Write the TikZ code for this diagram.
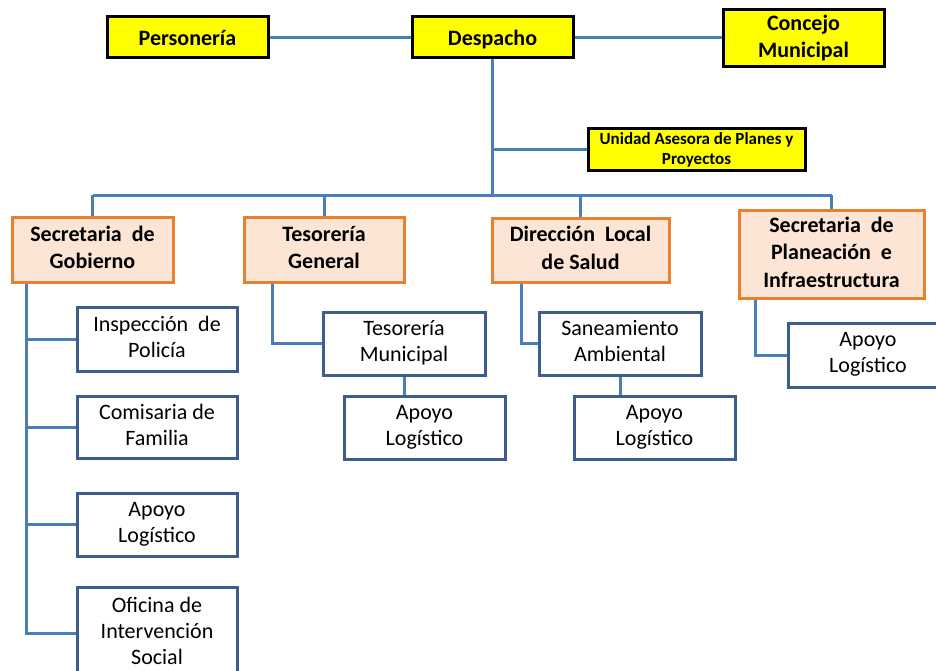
\documentclass[tikz,border=0pt]{standalone}
\usepackage{fontspec}
\setmainfont{Carlito}
\usetikzlibrary{calc}
\definecolor{linkblue}{HTML}{4A7EBB}
\definecolor{boxblue}{HTML}{3B5E8C}
\definecolor{orgborder}{HTML}{E8802F}
\definecolor{orgfill}{HTML}{FCE5D4}
\definecolor{ylw}{HTML}{FFFF00}
\newcommand\boxstrut{\rule[-0.2em]{0pt}{1.15em}}
\tikzset{
  basebox/.style={line width=3pt, inner sep=0pt, align=center,
     execute at begin node=\boxstrut, execute at end node=\boxstrut},
  topbox/.style={basebox, draw=black, fill=ylw,
     font=\fontsize{22}{27}\selectfont\bfseries},
  unitbox/.style={basebox, draw=black, fill=ylw,
     font=\fontsize{17}{20}\selectfont\bfseries},
  secbox/.style={basebox, draw=orgborder, fill=orgfill,
     font=\fontsize{22}{27.5}\selectfont\bfseries},
  subbox/.style={basebox, draw=boxblue, fill=white,
     font=\fontsize{22}{26}\selectfont},
  link/.style={draw=linkblue, line width=3pt}
}
\begin{document}
\begin{tikzpicture}[x=1pt,y=-1pt]
\useasboundingbox (0,0) rectangle (936,671);
\clip (0,0) rectangle (936,671);
\fill[white] (0,0) rectangle (936,671);

% top row
\node[topbox, minimum width=161pt, minimum height=41pt] (pers) at (187.5,37.5) {Personería};
\node[topbox, minimum width=161pt, minimum height=41pt] (desp) at (492.5,37.5) {Despacho};
\node[topbox, minimum width=161pt, minimum height=57pt] (conc) at (803.5,38) {Concejo\\Municipal};
\node[unitbox, minimum width=217pt, minimum height=42pt] (unid) at (696.5,150) {Unidad Asesora de Planes y\\Proyectos};

% secretariats
\node[secbox, minimum width=161pt, minimum height=65pt] (sg) at (92.5,249.5) {Secretaria\ \ de\\Gobierno};
\node[secbox, minimum width=160pt, minimum height=65pt] (tg) at (324,249.5) {Tesorería\\General};
\node[secbox, minimum width=177pt, minimum height=64pt] (dls) at (580.5,250) {Dirección\ \ Local\\de Salud};
\node[secbox, minimum width=185pt, minimum height=88pt] (spi) at (831.5,254) {Secretaria\ \ de\\Planeación\ \ e\\Infraestructura};

% sub units
\node[subbox, minimum width=160pt, minimum height=64pt] (ip) at (157,339) {Inspección\ \ de\\Policía};
\node[subbox, minimum width=160pt, minimum height=62pt] (cf) at (157,427) {Comisaria de\\Familia};
\node[subbox, minimum width=160pt, minimum height=63pt] (al1) at (157,524.5) {Apoyo\\Logístico};
\node[subbox, minimum width=160pt, minimum height=92pt] (ois) at (157,633) {Oficina de\\Intervención\\Social};

\node[subbox, minimum width=162pt, minimum height=63pt] (tm) at (404,343.5) {Tesorería\\Municipal};
\node[subbox, minimum width=161pt, minimum height=63pt] (al2) at (424.5,427.5) {Apoyo\\Logístico};

\node[subbox, minimum width=162pt, minimum height=63pt] (sa) at (620,343.5) {Saneamiento\\Ambiental};
\node[subbox, minimum width=161pt, minimum height=63pt] (al3) at (654.5,427.5) {Apoyo\\Logístico};

\node[subbox, minimum width=160pt, minimum height=64pt] (al4) at (868,355) {Apoyo\\Logístico};

% connectors
\coordinate (bus) at (492.5,195);
\draw[link] (pers.east) -- (desp.west);
\draw[link] (desp.east) -- (desp.east -| conc.west);
\draw[link] (desp.south) -- (bus);
\draw[link] (desp.south |- unid.west) -- (unid.west);
\draw[link] (sg.north |- bus) -- (spi.north |- bus);
\draw[link] (sg.north |- bus) -- (sg.north);
\draw[link] (tg.north |- bus) -- (tg.north);
\draw[link] (dls.north |- bus) -- (dls.north);
\draw[link] (spi.north |- bus) -- (spi.north);

\coordinate (sgv) at ([xshift=16pt]sg.south west);
\draw[link] (sgv) |- (ois.west);
\draw[link] (sgv |- ip.west) -- (ip.west);
\draw[link] (sgv |- cf.west) -- (cf.west);
\draw[link] (sgv |- al1.west) -- (al1.west);

\coordinate (tgv) at ([xshift=30pt]tg.south west);
\draw[link] (tgv) |- (tm.west);
\draw[link] (tm.south) -- (tm.south |- al2.north);

\coordinate (dlsv) at ([xshift=31pt]dls.south west);
\draw[link] (dlsv) |- (sa.west);
\draw[link] (sa.south) -- (sa.south |- al3.north);

\coordinate (spiv) at ([xshift=18pt]spi.south west);
\draw[link] (spiv) |- (al4.west);
\end{tikzpicture}
\end{document}
